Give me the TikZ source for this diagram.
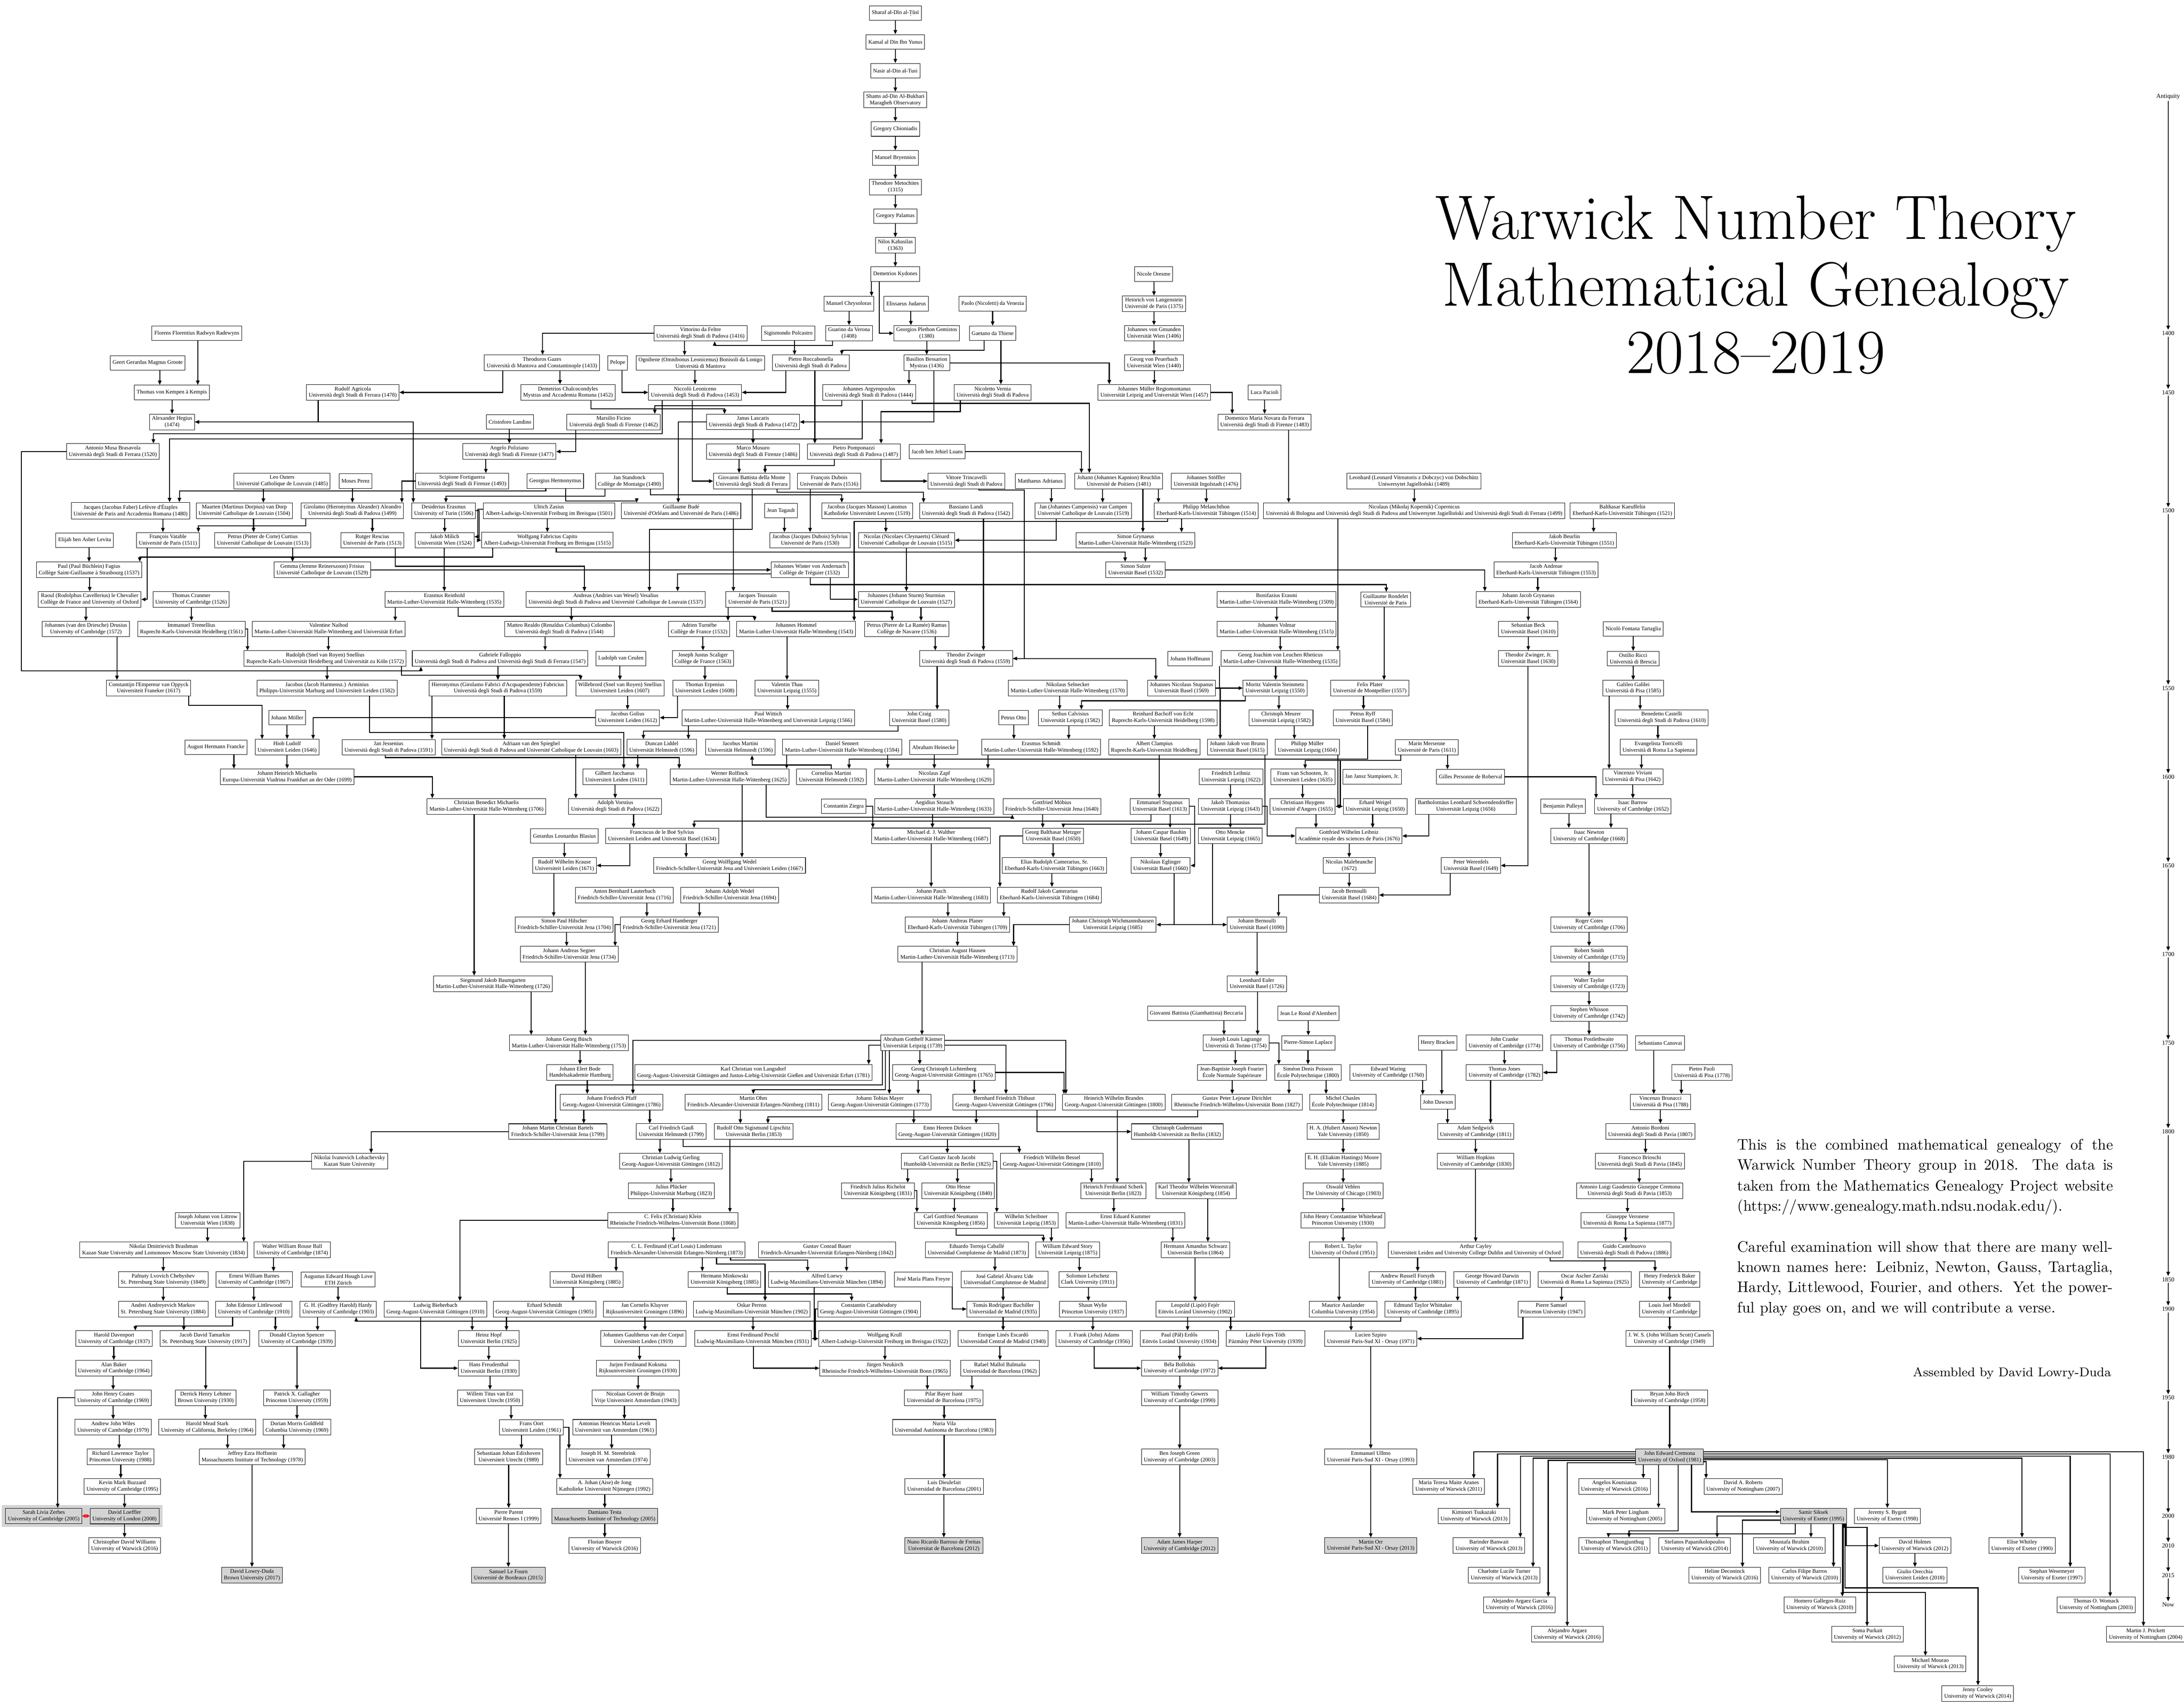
\documentclass[tikz,border=0pt]{standalone}
\usepackage{fontspec}
\newfontfamily\nodefont{Liberation Serif}
\usetikzlibrary{arrows.meta}
\pgfdeclarelayer{bg}
\pgfsetlayers{bg,main}
\newcommand\Tdot{T\kern-.43em\raisebox{-.62ex}{.}\kern.18em}
\newcommand\eV[2]{\draw[edg] (#1.south -| #2.north) -- (#2.north);}
\newcommand\eVA[3]{\draw[edg] (#1.south -| #3,0) -- (#2.north -| #3,0);}
\newcommand\eGA[5]{\draw[edg] (#1.south -| #2,0) |- (#4,#5) -- (#3.north -| #4,0);}
\newcommand\eTW[3]{\draw[edg] (#1.south -| #2,0) |- (#3.west);}
\newcommand\eTE[3]{\draw[edg] (#1.south -| #2,0) |- (#3.east);}
\newcommand\eFE[3]{\draw[edg] (#1.east) -| (#2.north -| #3,0);}
\newcommand\eFW[3]{\draw[edg] (#1.west) -| (#2.north -| #3,0);}
\tikzset{
  pers/.style={draw, line width=0.28pt, fill=white, inner xsep=1.5pt, inner ysep=1.3pt,
    minimum height=9.2pt, align=center, font=\nodefont\fontsize{3.5}{4.1}\selectfont},
  gpers/.style={pers, fill=black!17},
  edg/.style={line width=0.6pt, -{Triangle[length=2.7pt,width=2.2pt]}},
  yr/.style={inner sep=0.6pt, font=\nodefont\fontsize{3.9}{4.5}\selectfont},
  txt/.style={anchor=base west, inner sep=0pt, font=\fontsize{9.6}{12}\selectfont},
  ttl/.style={anchor=base, inner sep=0pt, font=\fontsize{39.6}{42}\selectfont}
}
\begin{document}
\begin{tikzpicture}[x=0.2pt, y=-18.66pt]
\useasboundingbox (0,-9.2712) rectangle (6891,48.4244);
\begin{pgfonlayer}{bg}
\fill[white] (0,-9.2712) rectangle (6891,48.4244);
\fill[black!17] (6,41.63) rectangle (513,42.37);
\end{pgfonlayer}
% ---------------- title and text
\node[ttl] at (5540,-1.190) {Warwick Number Theory};
\node[ttl] at (5540,1.083) {Mathematical Genealogy};
\node[ttl] at (5540,3.355) {2018--2019};
\node[txt] at (5481,29.614) {\hbox to 237pt{This is the combined mathematical genealogy of the}};
\node[txt] at (5481,30.300) {\hbox to 237pt{Warwick Number Theory group in 2018. The data is}};
\node[txt] at (5481,30.997) {\hbox to 237pt{taken from the Mathematics Genealogy Project website}};
\node[txt] at (5481,31.683) {(https://www.genealogy.math.ndsu.nodak.edu/).};
\node[txt] at (5481,33.065) {\hbox to 237pt{Careful examination will show that there are many well-}};
\node[txt] at (5481,33.751) {\hbox to 237pt{known names here: Leibniz, Newton, Gauss, Tartaglia,}};
\node[txt] at (5481,34.437) {\hbox to 237pt{Hardy, Littlewood, Fourier, and others. Yet the power-}};
\node[txt] at (5481,35.123) {ful play goes on, and we will contribute a verse.};
\node[txt, anchor=base east, font=\fontsize{8}{10}\selectfont] at (6662,37.277) {Assembled by David Lowry-Duda};
% ---------------- time axis
\node[yr] (y0) at (6841,-6) {Antiquity};
\node[yr] (y1) at (6841,2) {1400};
\node[yr] (y2) at (6841,4) {1450};
\node[yr] (y3) at (6841,8) {1500};
\node[yr] (y4) at (6841,14) {1550};
\node[yr] (y5) at (6841,17) {1600};
\node[yr] (y6) at (6841,20) {1650};
\node[yr] (y7) at (6841,23) {1700};
\node[yr] (y8) at (6841,26) {1750};
\node[yr] (y9) at (6841,29) {1800};
\node[yr] (y10) at (6841,34) {1850};
\node[yr] (y11) at (6841,35) {1900};
\node[yr] (y12) at (6841,38) {1950};
\node[yr] (y13) at (6841,40) {1980};
\node[yr] (y14) at (6841,42) {2000};
\node[yr] (y15) at (6841,43) {2010};
\node[yr] (y16) at (6841,44) {2015};
\node[yr] (y17) at (6841,45) {Now};
% ---------------- people
\node[pers] (t1) at (2825,-8.826) {Sharaf al-Dīn al-\Tdot ūsī};
\node[pers] (t2) at (2825,-7.856) {Kamal al Din Ibn Yunus};
\node[pers] (t3) at (2825,-6.881) {Nasir al-Din al-Tusi};
\node[pers] (t4) at (2825,-5.895) {Shams ad-Din Al-Bukhari\\Maragheh Observatory};
\node[pers] (t5) at (2825,-4.909) {Gregory Chioniadis};
\node[pers] (t6) at (2825,-3.934) {Manuel Bryennios};
\node[pers] (t7) at (2825,-2.947) {Theodore Metochites\\(1315)};
\node[pers] (t8) at (2825,-1.961) {Gregory Palamas};
\node[pers] (t9) at (2825,-0.975) {Nilos Kabasilas\\(1363)};
\node[pers] (kyd) at (2825,0) {Demetrios Kydones};
\node[pers] (ores) at (3640,0) {Nicole Oresme};
% row 1
\node[pers] (chrys) at (2678,1) {Manuel Chrysoloras};
\node[pers] (judae) at (2859,1) {Elissaeus Judaeus};
\node[pers] (paolo) at (3132,1) {Paolo (Nicoletti) da Venezia};
\node[pers] (lang) at (3641,1) {Heinrich von Langenstein\\Université de Paris (1375)};
% row 2
\node[pers] (rade) at (621,2) {Florens Florentius Radwyn Radewyns};
\node[pers] (vitt) at (2210,2) {Vittorino da Feltre\\Università degli Studi di Padova (1416)};
\node[pers] (polc) at (2487,2) {Sigismondo Polcastro};
\node[pers] (guar) at (2679,2) {Guarino da Verona\\(1408)};
\node[pers] (plet) at (2924,2) {Georgios Plethon Gemistos\\(1380)};
\node[pers] (gaet) at (3132,2) {Gaetano da Thiene};
\node[pers] (gmun) at (3641,2) {Johannes von Gmunden\\Universität Wien (1406)};
% row 3
\node[pers] (groo) at (466,3) {Geert Gerardus Magnus Groote};
\node[pers] (gaza) at (1710,3) {Theodoros Gazes\\Università di Mantova and Constantinople (1433)};
\node[pers] (pelo) at (1949,3) {Pelope};
\node[pers] (ogni) at (2210,3) {Ognibene (Omnibonus Leonicenus) Bonisoli da Lonigo\\Università di Mantova};
\node[pers] (rocc) at (2558,3) {Pietro Roccabonella\\Università degli Studi di Padova};
\node[pers] (bess) at (2924,3) {Basilios Bessarion\\Mystras (1436)};
\node[pers] (peue) at (3641,3) {Georg von Peuerbach\\Universität Wien (1440)};
% row 4
\node[pers] (kemp) at (542,4) {Thomas von Kempen à Kempis};
\node[pers] (agri) at (1113,4) {Rudolf Agricola\\Università degli Studi di Ferrara (1478)};
\node[pers] (chal) at (1792,4) {Demetrios Chalcocondyles\\Mystras and Accademia Romana (1452)};
\node[pers] (leon) at (2193,4) {Niccolò Leoniceno\\Università degli Studi di Padova (1453)};
\node[pers] (argy) at (2742,4) {Johannes Argyropoulos\\Università degli Studi di Padova (1444)};
\node[pers] (vern) at (3132,4) {Nicoletto Vernia\\Università degli Studi di Padova};
\node[pers] (regi) at (3642,4) {Johannes Müller Regiomontanus\\Universität Leipzig and Universität Wien (1457)};
\node[pers] (paci) at (3990,4) {Luca Pacioli};
% row 5
\node[pers] (hegi) at (543,5) {Alexander Hegius\\(1474)};
\node[pers] (land) at (1609,5) {Cristoforo Landino};
\node[pers] (fici) at (1936,5) {Marsilio Ficino\\Università degli Studi di Firenze (1462)};
\node[pers] (lasc) at (2376,5) {Janus Lascaris\\Università degli Studi di Padova (1472)};
\node[pers] (nova) at (3990,5) {Domenico Maria Novara da Ferrara\\Università degli Studi di Firenze (1483)};
% row 6
\node[pers] (bras) at (356,6) {Antonio Musa Brasavola\\Università degli Studi di Ferrara (1520)};
\node[pers] (poli) at (1607,6) {Angelo Poliziano\\Università degli Studi di Firenze (1477)};
\node[pers] (musu) at (2376,6) {Marco Musuro\\Università degli Studi di Firenze (1486)};
\node[pers] (pomp) at (2694,6) {Pietro Pomponazzi\\Università degli Studi di Padova (1487)};
\node[pers] (loan) at (2957,6) {Jacob ben Jehiel Loans};
% row 7
\node[pers] (oute) at (890,7) {Leo Outers\\Université Catholique de Louvain (1485)};
\node[pers] (pere) at (1122,7) {Moses Perez};
\node[pers] (fort) at (1458,7) {Scipione Fortiguerra\\Università degli Studi di Firenze (1493)};
\node[pers] (herm) at (1752,7) {Georgius Hermonymus};
\node[pers] (stan) at (1986,7) {Jan Standonck\\Collège de Montaigu (1490)};
\node[pers] (monte) at (2372,7) {Giovanni Battista della Monte\\Università degli Studi di Ferrara};
\node[pers] (dubo) at (2616,7) {François Dubois\\Université de Paris (1516)};
\node[pers] (trin) at (3049,7) {Vittore Trincavelli\\Università degli Studi di Padova};
\node[pers] (adri) at (3282,7) {Matthaeus Adrianus};
\node[pers] (reuc) at (3530,7) {Johann (Johannes Kapnion) Reuchlin\\Université de Poitiers (1481)};
\node[pers] (stof) at (3805,7) {Johannes Stöffler\\Universität Ingolstadt (1476)};
\node[pers] (dobs) at (4461,7) {Leonhard (Leonard Vitreatoris z Dobczyc) von Dobschütz\\Uniwersytet Jagielloński (1489)};
% row 8
\node[pers] (lefe) at (412,8) {Jacques (Jacobus Faber) Lefèvre d'Étaples\\Université de Paris and Accademia Romana (1480)};
\node[pers] (dorp) at (771,8) {Maarten (Martinus Dorpius) van Dorp\\Université Catholique de Louvain (1504)};
\node[pers] (alea) at (1112,8) {Girolamo (Hieronymus Aleander) Aleandro\\Università degli Studi di Padova (1499)};
\node[pers] (eras) at (1400,8) {Desiderius Erasmus\\University of Turin (1506)};
\node[pers] (zasi) at (1732,8) {Ulrich Zasius\\Albert-Ludwigs-Universität Freiburg im Breisgau (1501)};
\node[pers] (bude) at (2149,8) {Guillaume Budé\\Université d'Orléans and Université de Paris (1486)};
\node[pers] (taga) at (2464,8) {Jean Tagault};
\node[pers] (lato) at (2736,8) {Jacobus (Jacques Masson) Latomus\\Katholieke Universiteit Leuven (1519)};
\node[pers] (landi) at (3048,8) {Bassiano Landi\\Università degli Studi di Padova (1542)};
\node[pers] (camp) at (3418,8) {Jan (Johannes Campensis) van Campen\\Université Catholique de Louvain (1519)};
\node[pers] (mela) at (3806,8) {Philipp Melanchthon\\Eberhard-Karls-Universität Tübingen (1514)};
\node[pers] (cope) at (4462,8) {Nicolaus (Mikołaj Kopernik) Copernicus\\Università di Bologna and Università degli Studi di Padova and Uniwersytet Jagielloński and Università degli Studi di Ferrara (1499)};
\node[pers] (kaeu) at (5119,8) {Balthasar Kaeuffelin\\Eberhard-Karls-Universität Tübingen (1521)};
% row 9
\node[pers] (levi) at (267,9) {Elijah ben Asher Levita};
\node[pers] (vata) at (530,9) {François Vatable\\Université de Paris (1511)};
\node[pers] (curt) at (829,9) {Petrus (Pieter de Corte) Curtius\\Université Catholique de Louvain (1513)};
\node[pers] (resc) at (1175,9) {Rutger Rescius\\Université de Paris (1513)};
\node[pers] (mili) at (1403,9) {Jakob Milich\\Universität Wien (1524)};
\node[pers] (capi) at (1727,9) {Wolfgang Fabricius Capito\\Albert-Ludwigs-Universität Freiburg im Breisgau (1515)};
\node[pers] (sylv) at (2556,9) {Jacobus (Jacques Dubois) Sylvius\\Université de Paris (1530)};
\node[pers] (clen) at (2860,9) {Nicolas (Nicolaes Cleynaerts) Clénard\\Université Catholique de Louvain (1515)};
\node[pers] (sgry) at (3583,9) {Simon Grynaeus\\Martin-Luther-Universität Halle-Wittenberg (1523)};
\node[pers] (beur) at (4936,9) {Jakob Beurlin\\Eberhard-Karls-Universität Tübingen (1551)};
% row 10
\node[pers] (fagi) at (281,10) {Paul (Paul Büchlein) Fagius\\Collège Saint-Guillaume à Strasbourg (1537)};
\node[pers] (fris) at (1017,10) {Gemma (Jemme Reinerszoon) Frisius\\Université Catholique de Louvain (1529)};
\node[pers] (wint) at (2555,10) {Johannes Winter von Andernach\\Collège de Tréguier (1532)};
\node[pers] (sulz) at (3583,10) {Simon Sulzer\\Universität Basel (1532)};
\node[pers] (andr) at (4878,10) {Jacob Andreae\\Eberhard-Karls-Universität Tübingen (1553)};
% row 11
\node[pers] (chev) at (283,11) {Raoul (Rodolphus Cavellerius) le Chevalier\\Collège de France and University of Oxford};
\node[pers] (cran) at (603,11) {Thomas Cranmer\\University of Cambridge (1526)};
\node[pers] (rein) at (1402,11) {Erasmus Reinhold\\Martin-Luther-Universität Halle-Wittenberg (1535)};
\node[pers] (vesa) at (1943,11) {Andreas (Andries van Wesel) Vesalius\\Università degli Studi di Padova and Université Catholique de Louvain (1537)};
\node[pers] (tous) at (2390,11) {Jacques Toussain\\Université de Paris (1521)};
\node[pers] (stur) at (2860,11) {Johannes (Johann Sturm) Sturmius\\Université Catholique de Louvain (1527)};
\node[pers] (bera) at (4028,11) {Bonifazius Erasmi\\Martin-Luther-Universität Halle-Wittenberg (1509)};
\node[pers] (rond) at (4372,11) {Guillaume Rondelet\\Université de Paris};
\node[pers] (jjgr) at (4822,11) {Johann Jacob Grynaeus\\Eberhard-Karls-Universität Tübingen (1564)};
% row 12
\node[pers] (drus) at (271,12) {Johannes (van den Driesche) Drusius\\University of Cambridge (1572)};
\node[pers] (trem) at (604,12) {Immanuel Tremellius\\Ruprecht-Karls-Universität Heidelberg (1561)};
\node[pers] (naib) at (1037,12) {Valentine Naibod\\Martin-Luther-Universität Halle-Wittenberg and Universität Erfurt};
\node[pers] (colo) at (1765,12) {Matteo Realdo (Renaldus Columbus) Colombo\\Università degli Studi di Padova (1544)};
\node[pers] (turn) at (2206,12) {Adrien Turnèbe\\Collège de France (1532)};
\node[pers] (homm) at (2512,12) {Johannes Hommel\\Martin-Luther-Universität Halle-Wittenberg (1543)};
\node[pers] (ramu) at (2861,12) {Petrus (Pierre de La Ramée) Ramus\\Collège de Navarre (1536)};
\node[pers] (volm) at (4028,12) {Johannes Volmar\\Martin-Luther-Universität Halle-Wittenberg (1515)};
\node[pers] (beck) at (4822,12) {Sebastian Beck\\Universität Basel (1610)};
\node[pers] (tart) at (5153,12) {Nicolò Fontana Tartaglia};
% row 13
\node[pers] (snel) at (1026,13) {Rudolph (Snel van Royen) Snellius\\Ruprecht-Karls-Universität Heidelberg and Universität zu Köln (1572)};
\node[pers] (fall) at (1578,13) {Gabriele Falloppio\\Università degli Studi di Padova and Università degli Studi di Ferrara (1547)};
\node[pers] (ceul) at (1959,13) {Ludolph van Ceulen};
\node[pers] (scal) at (2218,13) {Joseph Justus Scaliger\\Collège de France (1563)};
\node[pers] (zwin) at (3048,13) {Theodor Zwinger\\Università degli Studi di Padova (1559)};
\node[pers] (hoff) at (3755,13) {Johann Hoffmann};
\node[pers] (rhet) at (4040,13) {Georg Joachim von Leuchen Rheticus\\Martin-Luther-Universität Halle-Wittenberg (1535)};
\node[pers] (zwjr) at (4822,13) {Theodor Zwinger, Jr.\\Universität Basel (1630)};
\node[pers] (ricc) at (5153,13) {Ostilio Ricci\\Università di Brescia};
% row 14
\node[pers] (empe) at (469,14) {Constantijn l'Empereur van Oppyck\\Universiteit Franeker (1617)};
\node[pers] (armi) at (1032,14) {Jacobus (Jacob Harmensz.) Arminius\\Philipps-Universität Marburg and Universiteit Leiden (1582)};
\node[pers] (fabr) at (1571,14) {Hieronymus (Girolamo Fabrici d'Acquapendente) Fabricius\\Università degli Studi di Padova (1559)};
\node[pers] (wsne) at (1956,14) {Willebrord (Snel van Royen) Snellius\\Universiteit Leiden (1607)};
\node[pers] (erpe) at (2224,14) {Thomas Erpenius\\Universiteit Leiden (1608)};
\node[pers] (thau) at (2483,14) {Valentin Thau\\Universität Leipzig (1555)};
\node[pers] (seln) at (3369,14) {Nikolaus Selnecker\\Martin-Luther-Universität Halle-Wittenberg (1570)};
\node[pers] (jnst) at (3728,14) {Johannes Nicolaus Stupanus\\Universität Basel (1569)};
\node[pers] (stei) at (4023,14) {Moritz Valentin Steinmetz\\Universität Leipzig (1550)};
\node[pers] (plat) at (4322,14) {Felix Plater\\Université de Montpellier (1557)};
\node[pers] (gali) at (5153,14) {Galileo Galilei\\Università di Pisa (1585)};
% row 15
\node[pers] (moll) at (906,15) {Johann Möller};
\node[pers] (goli) at (1980,15) {Jacobus Golius\\Universiteit Leiden (1612)};
\node[pers] (witt) at (2424,15) {Paul Wittich\\Martin-Luther-Universität Halle-Wittenberg and Universität Leipzig (1566)};
\node[pers] (crai) at (2900,15) {John Craig\\Universität Basel (1580)};
\node[pers] (otto) at (3198,15) {Petrus Otto};
\node[pers] (calv) at (3377,15) {Sethus Calvisius\\Universität Leipzig (1582)};
\node[pers] (bach) at (3670,15) {Reinhard Bachoff von Echt\\Ruprecht-Karls-Universität Heidelberg (1598)};
\node[pers] (meur) at (4042,15) {Christoph Meurer\\Universität Leipzig (1582)};
\node[pers] (ryff) at (4300,15) {Petrus Ryff\\Universität Basel (1584)};
\node[pers] (cast) at (5243,15) {Benedetto Castelli\\Università degli Studi di Padova (1610)};
% row 16
\node[pers] (fran) at (681,16) {August Hermann Francke};
\node[pers] (ludo) at (906,16) {Hiob Ludolf\\Universiteit Leiden (1646)};
\node[pers] (jess) at (1226,16) {Jan Jessenius\\Università degli Studi di Padova (1591)};
\node[pers] (spie) at (1676,16) {Adriaan van den Spieghel\\Università degli Studi di Padova and Université Catholique de Louvain (1603)};
\node[pers] (lidd) at (2088,16) {Duncan Liddel\\Universität Helmstedt (1596)};
\node[pers] (jmar) at (2336,16) {Jacobus Martini\\Universität Helmstedt (1596)};
\node[pers] (senn) at (2657,16) {Daniel Sennert\\Martin-Luther-Universität Halle-Wittenberg (1594)};
\node[pers] (hein) at (2946,16) {Abraham Heinecke};
\node[pers] (esch) at (3285,16) {Erasmus Schmidt\\Martin-Luther-Universität Halle-Wittenberg (1592)};
\node[pers] (clam) at (3642,16) {Albert Clampius\\Ruprecht-Karls-Universität Heidelberg};
\node[pers] (brun) at (3904,16) {Johann Jakob von Brunn\\Universität Basel (1615)};
\node[pers] (pmul) at (4125,16) {Philipp Müller\\Universität Leipzig (1604)};
\node[pers] (mers) at (4502,16) {Marin Mersenne\\Université de Paris (1611)};
\node[pers] (torr) at (5233,16) {Evangelista Torricelli\\Università di Roma La Sapienza};
% row 17
\node[pers] (jhmi) at (906,17) {Johann Heinrich Michaelis\\Europa-Universität Viadrina Frankfurt an der Oder (1699)};
\node[pers] (jacc) at (1940,17) {Gilbert Jacchaeus\\Universiteit Leiden (1611)};
\node[pers] (rolf) at (2302,17) {Werner Rolfinck\\Martin-Luther-Universität Halle-Wittenberg (1625)};
\node[pers] (cmar) at (2623,17) {Cornelius Martini\\Universität Helmstedt (1592)};
\node[pers] (zapf) at (2948,17) {Nicolaus Zapf\\Martin-Luther-Universität Halle-Wittenberg (1629)};
\node[pers] (flei) at (3884,17) {Friedrich Leibniz\\Universität Leipzig (1622)};
\node[pers] (scho) at (4111,17) {Frans van Schooten, Jr.\\Universiteit Leiden (1635)};
\node[pers] (stam) at (4329,17) {Jan Jansz Stampioen, Jr.};
\node[pers] (robe) at (4640,17) {Gilles Personne de Roberval};
\node[pers] (vivi) at (5152,17) {Vincenzo Viviani\\Università di Pisa (1642)};
% row 18
\node[pers] (cbmi) at (1535,18) {Christian Benedict Michaelis\\Martin-Luther-Universität Halle-Wittenberg (1706)};
\node[pers] (vors) at (1941,18) {Adolph Vorstius\\Università degli Studi di Padova (1622)};
\node[pers] (zieg) at (2662,18) {Constantin Ziegra};
\node[pers] (stra) at (2948,18) {Aegidius Strauch\\Martin-Luther-Universität Halle-Wittenberg (1633)};
\node[pers] (mobi) at (3319,18) {Gottfried Möbius\\Friedrich-Schiller-Universität Jena (1640)};
\node[pers] (esup) at (3659,18) {Emmanuel Stupanus\\Universität Basel (1613)};
\node[pers] (thom) at (3882,18) {Jakob Thomasius\\Universität Leipzig (1643)};
\node[pers] (huyg) at (4110,18) {Christiaan Huygens\\Université d'Angers (1655)};
\node[pers] (weig) at (4339,18) {Erhard Weigel\\Universität Leipzig (1650)};
\node[pers] (schw) at (4625,18) {Bartholomäus Leonhard Schwendendörffer\\Universität Leipzig (1656)};
\node[pers] (pull) at (4932,18) {Benjamin Pulleyn};
\node[pers] (barr) at (5152,18) {Isaac Barrow\\University of Cambridge (1652)};
% row 19
\node[pers] (blas) at (1781,19) {Gerardus Leonardus Blasius};
\node[pers] (fsyl) at (2089,19) {Franciscus de le Boë Sylvius\\Universiteit Leiden and Universität Basel (1634)};
\node[pers] (walt) at (2938,19) {Michael d. J. Walther\\Martin-Luther-Universität Halle-Wittenberg (1687)};
\node[pers] (metz) at (3323,19) {Georg Balthasar Metzger\\Universität Basel (1650)};
\node[pers] (bauh) at (3663,19) {Johann Caspar Bauhin\\Universität Basel (1649)};
\node[pers] (menc) at (3882,19) {Otto Mencke\\Universität Leipzig (1665)};
\node[pers] (leib) at (4256,19) {Gottfried Wilhelm Leibniz\\Académie royale des sciences de Paris (1676)};
\node[pers] (newt) at (5014,19) {Isaac Newton\\University of Cambridge (1668)};
% row 20
\node[pers] (krau) at (1781,20) {Rudolf Wilhelm Krause\\Universiteit Leiden (1671)};
\node[pers] (gwwe) at (2302,20) {Georg Wolffgang Wedel\\Friedrich-Schiller-Universität Jena and Universiteit Leiden (1667)};
\node[pers] (erca) at (3327,20) {Elias Rudolph Camerarius, Sr.\\Eberhard-Karls-Universität Tübingen (1663)};
\node[pers] (egli) at (3662,20) {Nikolaus Eglinger\\Universität Basel (1660)};
\node[pers] (male) at (4257,20) {Nicolas Malebranche\\(1672)};
\node[pers] (were) at (4641,20) {Peter Werenfels\\Universität Basel (1649)};
% row 21
\node[pers] (laut) at (1970,21) {Anton Bernhard Lauterbach\\Friedrich-Schiller-Universität Jena (1716)};
\node[pers] (jawe) at (2302,21) {Johann Adolph Wedel\\Friedrich-Schiller-Universität Jena (1694)};
\node[pers] (pasc) at (2938,21) {Johann Pasch\\Martin-Luther-Universität Halle-Wittenberg (1683)};
\node[pers] (rjca) at (3311,21) {Rudolf Jakob Camerarius\\Eberhard-Karls-Universität Tübingen (1684)};
\node[pers] (jabe) at (4257,21) {Jacob Bernoulli\\Universität Basel (1684)};
% row 22
\node[pers] (hils) at (1780,22) {Simon Paul Hilscher\\Friedrich-Schiller-Universität Jena (1704)};
\node[pers] (hamb) at (2112,22) {Georg Erhard Hamberger\\Friedrich-Schiller-Universität Jena (1721)};
\node[pers] (plan) at (3021,22) {Johann Andreas Planer\\Eberhard-Karls-Universität Tübingen (1709)};
\node[pers] (wich) at (3511,22) {Johann Christoph Wichmannshausen\\Universität Leipzig (1685)};
\node[pers] (jobe) at (3966,22) {Johann Bernoulli\\Universität Basel (1690)};
\node[pers] (cote) at (5014,22) {Roger Cotes\\University of Cambridge (1706)};
% row 23
\node[pers] (segn) at (1796,23) {Johann Andreas Segner\\Friedrich-Schiller-Universität Jena (1734)};
\node[pers] (haus) at (3021,23) {Christian August Hausen\\Martin-Luther-Universität Halle-Wittenberg (1713)};
\node[pers] (smit) at (5014,23) {Robert Smith\\University of Cambridge (1715)};
% row 24
\node[pers] (baum) at (1555,24) {Siegmund Jakob Baumgarten\\Martin-Luther-Universität Halle-Wittenberg (1726)};
\node[pers] (eule) at (3966,24) {Leonhard Euler\\Universität Basel (1726)};
\node[pers] (tayl) at (5014,24) {Walter Taylor\\University of Cambridge (1723)};
% row 25
\node[pers] (becc) at (3775,25) {Giovanni Battista (Giambattista) Beccaria};
\node[pers] (dale) at (4128,25) {Jean Le Rond d'Alembert};
\node[pers] (whis) at (5014,25) {Stephen Whisson\\University of Cambridge (1742)};
% row 26
\node[pers] (busc) at (1795,26) {Johann Georg Büsch\\Martin-Luther-Universität Halle-Wittenberg (1753)};
\node[pers] (kast) at (2880,26) {Abraham Gotthelf Kästner\\Universität Leipzig (1739)};
\node[pers] (lagr) at (3900,26) {Joseph Louis Lagrange\\Università di Torino (1754)};
\node[pers] (lapl) at (4128,26) {Pierre-Simon Laplace};
\node[pers] (brac) at (4536,26) {Henry Bracken};
\node[pers] (crnk) at (4747,26) {John Cranke\\University of Cambridge (1774)};
\node[pers] (post) at (5014,26) {Thomas Postlethwaite\\University of Cambridge (1756)};
\node[pers] (cano) at (5238,26) {Sebastiano Canovai};
% row 27
\node[pers] (bode) at (1830,27) {Johann Elert Bode\\Handelsakademie Hamburg};
\node[pers] (lgsd) at (2377,27) {Karl Christian von Langsdorf\\Georg-August-Universität Göttingen and Justus-Liebig-Universität Gießen and Universität Erfurt (1781)};
\node[pers] (lich) at (2978,27) {Georg Christoph Lichtenberg\\Georg-August-Universität Göttingen (1765)};
\node[pers] (four) at (3887,27) {Jean-Baptiste Joseph Fourier\\École Normale Supérieure};
\node[pers] (pois) at (4127,27) {Siméon Denis Poisson\\École Polytechnique (1800)};
\node[pers] (wari) at (4380,27) {Edward Waring\\University of Cambridge (1760)};
\node[pers] (jone) at (4747,27) {Thomas Jones\\University of Cambridge (1782)};
\node[pers] (paol) at (5370,27) {Pietro Paoli\\Università di Pisa (1778)};
% row 28
\node[pers] (pfaf) at (1930,28) {Johann Friedrich Pfaff\\Georg-August-Universität Göttingen (1786)};
\node[pers] (ohm) at (2377,28) {Martin Ohm\\Friedrich-Alexander-Universität Erlangen-Nürnberg (1811)};
\node[pers] (maye) at (2776,28) {Johann Tobias Mayer\\Georg-August-Universität Göttingen (1773)};
\node[pers] (thib) at (3169,28) {Bernhard Friedrich Thibaut\\Georg-August-Universität Göttingen (1796)};
\node[pers] (bran) at (3514,28) {Heinrich Wilhelm Brandes\\Georg-August-Universität Göttingen (1800)};
\node[pers] (diri) at (3903,28) {Gustav Peter Lejeune Dirichlet\\Rheinische Friedrich-Wilhelms-Universität Bonn (1827)};
\node[pers] (chas) at (4237,28) {Michel Chasles\\École Polytechnique (1814)};
\node[pers] (daws) at (4537,28) {John Dawson};
\node[pers] (bruc) at (5239,28) {Vincenzo Brunacci\\Università di Pisa (1788)};
% row 29
\node[pers] (bart) at (1760,29) {Johann Martin Christian Bartels\\Friedrich-Schiller-Universität Jena (1799)};
\node[pers] (gaus) at (2118,29) {Carl Friedrich Gauß\\Universität Helmstedt (1799)};
\node[pers] (lips) at (2378,29) {Rudolf Otto Sigismund Lipschitz\\Universität Berlin (1853)};
\node[pers] (dirk) at (2989,29) {Enno Heeren Dirksen\\Georg-August-Universität Göttingen (1820)};
\node[pers] (gude) at (3715,29) {Christoph Gudermann\\Humboldt-Universität zu Berlin (1832)};
\node[pers] (hane) at (4238,29) {H. A. (Hubert Anson) Newton\\Yale University (1850)};
\node[pers] (sedg) at (4656,29) {Adam Sedgwick\\University of Cambridge (1811)};
\node[pers] (bord) at (5207,29) {Antonio Bordoni\\Università degli Studi di Pavia (1807)};
% row 30
\node[pers] (loba) at (1103,30) {Nikolai Ivanovich Lobachevsky\\Kazan State University};
\node[pers] (gerl) at (2117,30) {Christian Ludwig Gerling\\Georg-August-Universität Göttingen (1812)};
\node[pers] (jaco) at (2989,30) {Carl Gustav Jacob Jacobi\\Humboldt-Universität zu Berlin (1825)};
\node[pers] (bssl) at (3319,30) {Friedrich Wilhelm Bessel\\Georg-August-Universität Göttingen (1810)};
\node[pers] (moor) at (4238,30) {E. H. (Eliakim Hastings) Moore\\Yale University (1885)};
\node[pers] (hopk) at (4656,30) {William Hopkins\\University of Cambridge (1830)};
\node[pers] (brio) at (5174,30) {Francesco Brioschi\\Università degli Studi di Pavia (1845)};
% row 31
\node[pers] (pluc) at (2118,31) {Julius Plücker\\Philipps-Universität Marburg (1823)};
\node[pers] (rich) at (2770,31) {Friedrich Julius Richelot\\Universität Königsberg (1831)};
\node[pers] (hess) at (3023,31) {Otto Hesse\\Universität Königsberg (1840)};
\node[pers] (sche) at (3513,31) {Heinrich Ferdinand Scherk\\Universität Berlin (1823)};
\node[pers] (weie) at (3774,31) {Karl Theodor Wilhelm Weierstraß\\Universität Königsberg (1854)};
\node[pers] (vebl) at (4238,31) {Oswald Veblen\\The University of Chicago (1903)};
\node[pers] (crem) at (5142,31) {Antonio Luigi Gaudenzio Giuseppe Cremona\\Università degli Studi di Pavia (1853)};
% row 32
\node[pers] (litt) at (655,32) {Joseph Johann von Littrow\\Universität Wien (1838)};
\node[pers] (klei) at (2123,32) {C. Felix (Christian) Klein\\Rheinische Friedrich-Wilhelms-Universität Bonn (1868)};
\node[pers] (neum) at (3000,32) {Carl Gottfried Neumann\\Universität Königsberg (1856)};
\node[pers] (schb) at (3238,32) {Wilhelm Scheibner\\Universität Leipzig (1853)};
\node[pers] (kumm) at (3551,32) {Ernst Eduard Kummer\\Martin-Luther-Universität Halle-Wittenberg (1831)};
\node[pers] (whit) at (4237,32) {John Henry Constantine Whitehead\\Princeton University (1930)};
\node[pers] (vero) at (5135,32) {Giuseppe Veronese\\Università di Roma La Sapienza (1877)};
% row 33
\node[pers] (brsh) at (516,33) {Nikolai Dmitrievich Brashman\\Kazan State University and Lomonosov Moscow State University (1834)};
\node[pers] (ball) at (922,33) {Walter William Rouse Ball\\University of Cambridge (1874)};
\node[pers] (lind) at (2135,33) {C. L. Ferdinand (Carl Louis) Lindemann\\Friedrich-Alexander-Universität Erlangen-Nürnberg (1873)};
\node[pers] (baue) at (2610,33) {Gustav Conrad Bauer\\Friedrich-Alexander-Universität Erlangen-Nürnberg (1842)};
\node[pers] (torj) at (3082,33) {Eduardo Torroja Caballé\\Universidad Complutense de Madrid (1873)};
\node[pers] (stor) at (3369,33) {William Edward Story\\Universität Leipzig (1875)};
\node[pers] (schz) at (3772,33) {Hermann Amandus Schwarz\\Universität Berlin (1864)};
\node[pers] (rlta) at (4238,33) {Robert L. Taylor\\University of Oxford (1951)};
\node[pers] (cayl) at (4656,33) {Arthur Cayley\\Universiteit Leiden and University College Dublin and University of Oxford};
\node[pers] (cstn) at (5125,33) {Guido Castelnuovo\\Università degli Studi di Padova (1886)};
% row 34
\node[pers] (cheb) at (515,34) {Pafnuty Lvovich Chebyshev\\St. Petersburg State University (1849)};
\node[pers] (barn) at (802,34) {Ernest William Barnes\\University of Cambridge (1907)};
\node[pers] (love) at (1067,34) {Augustus Edward Hough Love\\ETH Zürich};
\node[pers] (hilb) at (1851,34) {David Hilbert\\Universität Königsberg (1885)};
\node[pers] (mink) at (2286,34) {Hermann Minkowski\\Universität Königsberg (1885)};
\node[pers] (loew) at (2609,34) {Alfred Loewy\\Ludwig-Maximilians-Universität München (1894)};
\node[pers] (plfr) at (2913,34) {José María Plans Freyre};
\node[pers] (alva) at (3170,34) {José Gabriel Álvarez Ude\\Universidad Complutense de Madrid};
\node[pers] (lefs) at (3432,34) {Solomon Lefschetz\\Clark University (1911)};
\node[pers] (fors) at (4441,34) {Andrew Russell Forsyth\\University of Cambridge (1881)};
\node[pers] (darw) at (4708,34) {George Howard Darwin\\University of Cambridge (1871)};
\node[pers] (zari) at (5000,34) {Oscar Ascher Zariski\\Università di Roma La Sapienza (1925)};
\node[pers] (bake) at (5268,34) {Henry Frederick Baker\\University of Cambridge};
% row 35
\node[pers] (mark) at (515,35) {Andrei Andreyevich Markov\\St. Petersburg State University (1884)};
\node[pers] (ltwd) at (801,35) {John Edensor Littlewood\\University of Cambridge (1910)};
\node[pers] (hard) at (1067,35) {G. H. (Godfrey Harold) Hardy\\University of Cambridge (1903)};
\node[pers] (bieb) at (1374,35) {Ludwig Bieberbach\\Georg-August-Universität Göttingen (1910)};
\node[pers] (esmi) at (1718,35) {Erhard Schmidt\\Georg-August-Universität Göttingen (1905)};
\node[pers] (kluy) at (2035,35) {Jan Cornelis Kluyver\\Rijksuniversiteit Groningen (1896)};
\node[pers] (perr) at (2372,35) {Oskar Perron\\Ludwig-Maximilians-Universität München (1902)};
\node[pers] (cara) at (2742,35) {Constantin Carathéodory\\Georg-August-Universität Göttingen (1904)};
\node[pers] (rodr) at (3165,35) {Tomás Rodríguez Bachiller\\Universidad de Madrid (1935)};
\node[pers] (wyli) at (3448,35) {Shaun Wylie\\Princeton University (1937)};
\node[pers] (feje) at (3771,35) {Leopold (Lipót) Fejér\\Eötvös Loránd University (1902)};
\node[pers] (ausl) at (4238,35) {Maurice Auslander\\Columbia University (1954)};
\node[pers] (whtt) at (4490,35) {Edmund Taylor Whittaker\\University of Cambridge (1895)};
\node[pers] (samu) at (4895,35) {Pierre Samuel\\Princeton University (1947)};
\node[pers] (mord) at (5268,35) {Louis Joel Mordell\\University of Cambridge};
% row 36
\node[pers] (dave) at (360,36) {Harold Davenport\\University of Cambridge (1937)};
\node[pers] (tama) at (646,36) {Jacob David Tamarkin\\St. Petersburg State University (1917)};
\node[pers] (spen) at (937,36) {Donald Clayton Spencer\\University of Cambridge (1939)};
\node[pers] (hopf) at (1542,36) {Heinz Hopf\\Universität Berlin (1925)};
\node[pers] (corp) at (2030,36) {Johannes Gaultherus van der Corput\\Universiteit Leiden (1919)};
\node[pers] (pesc) at (2376,36) {Ernst Ferdinand Peschl\\Ludwig-Maximilians-Universität München (1931)};
\node[pers] (krul) at (2791,36) {Wolfgang Krull\\Albert-Ludwigs-Universität Freiburg im Breisgau (1922)};
\node[pers] (lnes) at (3165,36) {Enrique Linés Escardó\\Universidad Central de Madrid (1940)};
\node[pers] (adam) at (3452,36) {J. Frank (John) Adams\\University of Cambridge (1956)};
\node[pers] (erdo) at (3721,36) {Paul (Pál) Erdős\\Eötvös Loránd University (1934)};
\node[pers] (fejt) at (3993,36) {László Fejes Tóth\\Pázmány Péter University (1939)};
\node[pers] (szpi) at (4325,36) {Lucien Szpiro\\Université Paris-Sud XI - Orsay (1971)};
\node[pers] (cass) at (5268,36) {J. W. S. (John William Scott) Cassels\\University of Cambridge (1949)};
% row 37
\node[pers] (abak) at (359,37) {Alan Baker\\University of Cambridge (1964)};
\node[pers] (freu) at (1542,37) {Hans Freudenthal\\Universität Berlin (1930)};
\node[pers] (koks) at (2013,37) {Jurjen Ferdinand Koksma\\Rijksuniversiteit Groningen (1930)};
\node[pers] (neuk) at (2792,37) {Jürgen Neukirch\\Rheinische Friedrich-Wilhelms-Universität Bonn (1965)};
\node[pers] (mall) at (3155,37) {Rafael Mallol Balmaña\\Universidad de Barcelona (1962)};
\node[pers] (boll) at (3722,37) {Béla Bollobás\\University of Cambridge (1972)};
% row 38
\node[pers] (coat) at (357,38) {John Henry Coates\\University of Cambridge (1969)};
\node[pers] (lehm) at (649,38) {Derrick Henry Lehmer\\Brown University (1930)};
\node[pers] (gall) at (937,38) {Patrick X. Gallagher\\Princeton University (1959)};
\node[pers] (vane) at (1546,38) {Willem Titus van Est\\Universiteit Utrecht (1950)};
\node[pers] (brui) at (2005,38) {Nicolaas Govert de Bruijn\\Vrije Universiteit Amsterdam (1943)};
\node[pers] (baye) at (2978,38) {Pilar Bayer Isant\\Universidad de Barcelona (1975)};
\node[pers] (gowe) at (3722,38) {William Timothy Gowers\\University of Cambridge (1990)};
\node[pers] (birc) at (5268,38) {Bryan John Birch\\University of Cambridge (1958)};
% row 39
\node[pers] (wile) at (357,39) {Andrew John Wiles\\University of Cambridge (1979)};
\node[pers] (star) at (654,39) {Harold Mead Stark\\University of California, Berkeley (1964)};
\node[pers] (gold) at (937,39) {Dorian Morris Goldfeld\\Columbia University (1969)};
\node[pers] (oort) at (1677,39) {Frans Oort\\Universiteit Leiden (1961)};
\node[pers] (leve) at (1939,39) {Antonius Henricus Maria Levelt\\Universiteit van Amsterdam (1961)};
\node[pers] (vila) at (2979,39) {Nuria Vila\\Universidad Autónoma de Barcelona (1983)};
% row 40
\node[pers] (rtay) at (380,40) {Richard Lawrence Taylor\\Princeton University (1988)};
\node[pers] (hofs) at (796,40) {Jeffrey Ezra Hoffstein\\Massachusetts Institute of Technology (1978)};
\node[pers] (edix) at (1605,40) {Sebastiaan Johan Edixhoven\\Universiteit Utrecht (1989)};
\node[pers] (stee) at (1919,40) {Joseph H. M. Steenbrink\\Universiteit van Amsterdam (1974)};
\node[pers] (gree) at (3722,40) {Ben Joseph Green\\University of Cambridge (2003)};
\node[pers] (ullm) at (4325,40) {Emmanuel Ullmo\\Université Paris-Sud XI - Orsay (1993)};
\node[gpers] (jecr) at (5268,40) {John Edward Cremona\\University of Oxford (1981)};
% row 41
\node[pers] (buzz) at (386,41) {Kevin Mark Buzzard\\University of Cambridge (1995)};
\node[pers] (jong) at (1908,41) {A. Johan (Aise) de Jong\\Katholieke Universiteit Nijmegen (1992)};
\node[pers] (dieu) at (2979,41) {Luis Dieulefait\\Universidad de Barcelona (2001)};
\node[pers] (aran) at (4571,41) {Maria Teresa Maite Aranes\\University of Warwick (2011)};
\node[pers] (kout) at (5094,41) {Angelos Koutsianas\\University of Warwick (2016)};
\node[pers] (robt) at (5500,41) {David A. Roberts\\University of Nottingham (2007)};
% row 42
\node[gpers] (zerb) at (138,42) {Sarah Livia Zerbes\\University of Cambridge (2005)};
\node[gpers] (loef) at (393,42) {David Loeffler\\University of London (2008)};
\node[pers] (pare) at (1605,42) {Pierre Parent\\Université Rennes I (1999)};
\node[gpers] (test) at (1908,42) {Damiano Testa\\Massachusetts Institute of Technology (2005)};
\node[pers] (tsuk) at (4651,42) {Kiminori Tsukazaki\\University of Warwick (2013)};
\node[pers] (ling) at (5129,42) {Mark Peter Lingham\\University of Nottingham (2005)};
\node[gpers] (siks) at (5722,42) {Samir Siksek\\University of Exeter (1995)};
\node[pers] (bygo) at (5955,42) {Jeremy S. Bygott\\University of Exeter (1998)};
% row 43
\node[pers] (cdwi) at (393,43) {Christopher David Williams\\University of Warwick (2016)};
\node[pers] (bouy) at (1908,43) {Florian Bouyer\\University of Warwick (2016)};
\node[gpers] (frei) at (2978,43) {Nuno Ricardo Barroso de Freitas\\Universitat de Barcelona (2012)};
\node[gpers] (harp) at (3722,43) {Adam James Harper\\University of Cambridge (2012)};
\node[gpers] (orr) at (4325,43) {Martin Orr\\Université Paris-Sud XI - Orsay (2013)};
\node[pers] (banw) at (4698,43) {Barinder Banwait\\University of Warwick (2013)};
\node[pers] (thon) at (5094,43) {Thotsaphon Thongjunthug\\University of Warwick (2011)};
\node[pers] (papa) at (5347,43) {Stefanos Papanikolopoulos\\University of Warwick (2014)};
\node[pers] (ibra) at (5646,43) {Moustafa Ibrahim\\University of Warwick (2010)};
\node[pers] (holm) at (6042,43) {David Holmes\\University of Warwick (2012)};
\node[pers] (whtl) at (6380,43) {Elise Whitley\\University of Exeter (1990)};
% row 44
\node[gpers] (lowr) at (795,44) {David Lowry-Duda\\Brown University (2017)};
\node[gpers] (lefo) at (1604,44) {Samuel Le Fourn\\Université de Bordeaux (2015)};
\node[pers] (turr) at (4746,44) {Charlotte Lucile Turner\\University of Warwick (2013)};
\node[pers] (deco) at (5442,44) {Heline Deconinck\\University of Warwick (2016)};
\node[pers] (bars) at (5694,44) {Carlos Filipe Barros\\University of Warwick (2010)};
\node[pers] (orec) at (6042,44) {Giulio Orecchia\\Universiteit Leiden (2018)};
\node[pers] (wese) at (6474,44) {Stephan Wesemeyer\\University of Exeter (1997)};
% rows 45-48
\node[pers] (agar) at (4794,45) {Alejandro Argaez Garcia\\University of Warwick (2016)};
\node[pers] (galr) at (5742,45) {Homero Gallegos-Ruiz\\University of Warwick (2010)};
\node[pers] (woma) at (6614,45) {Thomas O. Womack\\University of Nottingham (2003)};
\node[pers] (arga) at (4945,46) {Alejandro Argaez\\University of Warwick (2016)};
\node[pers] (purk) at (5892,46) {Soma Purkait\\University of Warwick (2012)};
\node[pers] (pric) at (6770,46) {Martin J. Prickett\\University of Nottingham (2004)};
\node[pers] (mour) at (6090,47) {Michael Mourao\\University of Warwick (2013)};
\node[pers] (cool) at (6240,48) {Jenny Cooley\\University of Warwick (2014)};
% ---------------- connectors
\begin{pgfonlayer}{bg}
\foreach \a/\b in {y0/y1,y1/y2,y2/y3,y3/y4,y4/y5,y5/y6,y6/y7,y7/y8,y8/y9,y9/y10,y10/y11,y11/y12,y12/y13,y13/y14,y14/y15,y15/y16,y16/y17}
  \draw[edg] (\a.south) -- (\b.north);
\eV{t1}{t2}\eV{t2}{t3}\eV{t3}{t4}\eV{t4}{t5}\eV{t5}{t6}\eV{t6}{t7}\eV{t7}{t8}\eV{t8}{t9}\eV{t9}{kyd}
\eVA{kyd}{chrys}{2750}
\eTW{kyd}{2774}{plet}
\eV{chrys}{guar}
\eVA{judae}{plet}{2874}
\eV{paolo}{gaet}
\eV{ores}{lang}\eV{lang}{gmun}\eV{gmun}{peue}\eV{peue}{regi}
\eFW{vitt}{gaza}{1712}
\eVA{vitt}{ogni}{2160}
\draw[edg] (guar.south -| 2627,0) |- (2255,2.41) -- (vitt.south -| 2255,0);
\eVA{polc}{rocc}{2507}
\eGA{gaet}{3105}{rocc}{2656}{2.57}
\eV{plet}{bess}
\eVA{gaet}{vern}{3158}
\eFE{bess}{regi}{3500}
\eVA{bess}{argy}{2868}
\eVA{gaza}{chal}{1767}
\eTW{pelo}{1962}{leon}
\eV{ogni}{leon}
\eTE{rocc}{2479}{leon}
\eGA{chal}{1865}{lasc}{2286}{4.55}
\eGA{argy}{2656}{fici}{2066}{4.45}
\eTE{bess}{2946}{lasc}
\eGA{vern}{3030}{pomp}{2780}{4.65}
\eGA{argy}{2878}{reuc}{3437}{4.37}
\eGA{leon}{2089}{bras}{484}{5.4}
\eGA{argy}{2720}{lefe}{535}{5.57}
\eTE{fici}{1817}{poli}
\eTW{leon}{2184}{monte}
\eV{lasc}{musu}
\eVA{rocc}{pomp}{2571}
\eVA{musu}{monte}{2332}
\eGA{pomp}{2632}{monte}{2414}{6.48}
\eTW{pomp}{2780}{trin}
\eFE{loan}{reuc}{3412}
\eFW{lasc}{bude}{2140}
\eGA{herm}{1722}{lefe}{566}{7.33}
\eGA{stan}{1909}{eras}{1407}{7.51}
\eGA{herm}{1785}{bude}{2009}{7.67}
\eGA{stan}{2052}{lato}{2656}{7.46}
\eGA{monte}{2452}{landi}{2914}{7.38}
\eGA{monte}{2373}{vesa}{2049}{8.63}
\eVA{bude}{tous}{2314}
\eVA{dubo}{sylv}{2556}
\eVA{taga}{sylv}{2475}
\eVA{lato}{clen}{2795}
\eVA{landi}{zwin}{3103}
\draw[edg] (trin.south -| 3089,0) |- (3232,7.3) |- (zwin.east);
\eVA{adri}{camp}{3317}
\eVA{reuc}{camp}{3479}
\eTE{camp}{3332}{clen}
\eVA{reuc}{mela}{3655}
\eVA{reuc}{sgry}{3606}
\eV{stof}{mela}
\eV{dobs}{cope}
\eVA{mela}{sgry}{3728}
\eGA{mela}{3684}{homm}{2695}{8.37}
\eVA{nova}{cope}{4066}
\eFE{regi}{nova}{3888}
\eV{paci}{nova}
\eVA{sgry}{sulz}{3614}
\eGA{capi}{1755}{sulz}{3550}{9.4}
\eFE{sulz}{jjgr}{4685}
\eVA{kaeu}{beur}{5028}
\eVA{beur}{andr}{4908}
\eVA{andr}{jjgr}{4852}
\eV{jjgr}{beck}\eV{beck}{zwjr}
\eGA{wint}{2556}{rond}{4374}{10.5}
\eV{bera}{volm}\eV{volm}{rhet}
\eVA{cope}{rhet}{4221}
\eVA{rhet}{stei}{4025}
\eTW{hoff}{3848}{stei}
\eFE{zwin}{jnst}{3647}
\eGA{stei}{3929}{calv}{3412}{14.43}
\eVA{stei}{meur}{4035}
\eVA{rond}{plat}{4367}
\eVA{plat}{ryff}{4302}
\eV{tart}{ricc}\eV{ricc}{gali}
\eVA{gali}{cast}{5175}
\eVA{cast}{torr}{5231}
\eFE{jnst}{brun}{3850}
\eV{bach}{clam}
\eVA{meur}{pmul}{4084}
\eVA{rade}{kemp}{624}
\eVA{groo}{kemp}{504}
\eV{kemp}{hegi}
\eTE{agri}{1004}{hegi}
\eTE{gaza}{1586}{agri}
\eFE{hegi}{eras}{1304}
\eV{land}{poli}
\eVA{poli}{fort}{1533}
\eVA{oute}{dorp}{831}
\eV{pere}{alea}
\eFW{fort}{alea}{1268}
\eVA{lefe}{vata}{514}
\eGA{alea}{965}{vata}{626}{8.51}
\eVA{dorp}{curt}{800}
\eV{alea}{resc}
\eV{eras}{mili}
\draw[edg] (eras.east) -| (1512,9) -- (capi.west);
\draw[edg] ([yshift=1pt]zasi.west) -| (1508,8.88) -- (mili.east |- 0,8.88);
\eV{zasi}{capi}
\eV{levi}{fagi}
\eGA{capi}{1555}{fagi}{441}{9.57}
\eVA{curt}{fris}{923}
\eGA{resc}{1247}{vesa}{1844}{9.88}
\draw[edg] (fris.east) -- (wint.west);
\draw[edg] ([yshift=-2.6pt]wint.west) -| (vesa.north -| 2138,0);
\eTW{wint}{2620}{stur}
\eV{clen}{stur}
\eV{fagi}{chev}
\eTE{vata}{464}{chev}
\eV{cran}{trem}
\eV{mili}{rein}
\eV{chev}{drus}
\eVA{rein}{naib}{1247}
\eGA{rein}{1446}{homm}{2381}{11.57}
\eVA{tous}{turn}{2297}
\eGA{tous}{2436}{ramu}{2815}{11.4}
\eVA{stur}{ramu}{2906}
\eVA{vesa}{colo}{1803}
\eVA{colo}{fall}{1720}
\eVA{naib}{snel}{1036}
\eFE{trem}{snel}{781}
\eVA{drus}{empe}{369}
\eV{snel}{armi}
\eGA{snel}{1266}{wsne}{1832}{13.57}
\draw[edg] (bras.west) -| (67,13.42) -| (fall.south -| 1328,0);
\eV{fall}{fabr}
\eVA{ramu}{zwin}{2951}
\eV{turn}{scal}
\eV{homm}{thau}
\eV{ceul}{wsne}
\eV{scal}{erpe}
\eV{wsne}{goli}
\eTE{erpe}{2138}{goli}
\eVA{thau}{witt}{2485}
\eVA{zwin}{crai}{2957}
\eVA{seln}{calv}{3343}
\eGA{crai}{2834}{lidd}{2030}{15.46}
\eVA{witt}{lidd}{2172}
\eFW{goli}{ludo}{988}
\eVA{otto}{esch}{3199}
\eVA{calv}{esch}{3372}
\eGA{empe}{595}{ludo}{827}{14.58}
\eV{moll}{ludo}
\eVA{fabr}{jess}{1363}
\eVA{fabr}{spie}{1591}
\eVA{fran}{jhmi}{738}
\eVA{ludo}{jhmi}{906}
\eVA{spie}{vors}{1817}
\eGA{armi}{1166}{jacc}{1968}{15.5}
\eVA{lidd}{jacc}{2012}
\eGA{jess}{1215}{rolf}{2143}{16.35}
\eVA{senn}{rolf}{2482}
\draw[edg] (cmar.north -| 2623,0) |- (2373,16.6) -- (jmar.south -| 2373,0);
\eGA{ryff}{4315}{cmar}{2679}{16.4}
\eVA{senn}{zapf}{2801}
\eV{hein}{zapf}
\eVA{esch}{zapf}{3117}
\eVA{clam}{esup}{3658}
\eGA{mers}{4420}{scho}{4118}{16.45}
\draw[edg] (mers.south -| 4420,0) |- (4229,16.45) |- (huyg.east);
\eTW{pmul}{4221}{weig}
\eVA{mers}{robe}{4567}
\eVA{gali}{vivi}{5077}
\eVA{torr}{vivi}{5179}
\eV{jacc}{vors}
\eVA{vors}{fsyl}{1999}
\eTE{fsyl}{1987}{krau}
\eVA{fsyl}{gwwe}{2165}
\eVA{rolf}{gwwe}{2341}
\draw[edg] (rolf.south -| 2417,0) |- (3194,18.37) -- (mobi.south -| 3194,0);
\eGA{esup}{3631}{fsyl}{2190}{18.5}
\eGA{brun}{3991}{metz}{3355}{18.6}
\draw[edg] (thom.east) -| (3998,19) -- (leib.west);
\eV{flei}{thom}
\eV{thom}{menc}
\eVA{esup}{bauh}{3692}
\draw[edg] (esup.east) -- (3769,18) |- (egli.east);
\eV{bauh}{egli}
\eVA{huyg}{leib}{4152}
\eVA{weig}{leib}{4331}
\eTE{schw}{4508}{leib}
\eV{scho}{huyg}
\eVA{pull}{newt}{4950}
\eVA{barr}{newt}{5083}
\eFE{robe}{barr}{5036}
\eV{vivi}{barr}
\eV{leib}{male}
\eTE{zwjr}{4821}{were}
\eV{male}{jabe}
\eTE{were}{4576}{jabe}
\eFW{jabe}{jobe}{4034}
\eTE{menc}{3826}{wich}
\eTW{egli}{3704}{jobe}
\eV{jobe}{eule}
\eV{newt}{cote}\eV{cote}{smit}\eV{smit}{tayl}\eV{tayl}{whis}\eV{whis}{post}
\eVA{eule}{lagr}{3968}
\eVA{becc}{lagr}{3862}
\eV{dale}{lapl}
\eVA{lagr}{four}{3898}
\eFE{lagr}{pois}{4035}
\eV{lapl}{pois}
\eV{crnk}{jone}
\eTE{post}{4912}{jone}
\eVA{cano}{bruc}{5218}
\eVA{paol}{bruc}{5305}
\eVA{four}{diri}{3888}
\eVA{pois}{diri}{4067}
\eVA{pois}{chas}{4184}
\eVA{wari}{daws}{4489}
\eVA{brac}{daws}{4549}
\eV{chas}{hane}\eV{hane}{moor}\eV{moor}{vebl}\eV{vebl}{whit}
\eVA{daws}{sedg}{4567}
\eVA{jone}{sedg}{4703}
\eV{sedg}{hopk}
\eVA{bruc}{bord}{5239}
\eVA{bord}{brio}{5192}
\eVA{brio}{crem}{5172}
\eV{crem}{vero}
\eV{zapf}{stra}
\eFE{zieg}{walt}{2754}
\eVA{stra}{walt}{2942}
\eVA{mobi}{metz}{3290}
\eVA{metz}{erca}{3323}
\eFW{metz}{rjca}{3155}
\eVA{erca}{rjca}{3319}
\eV{walt}{pasc}
\eV{gwwe}{jawe}
\eVA{laut}{hamb}{2041}
\eVA{jawe}{hamb}{2207}
\eVA{hils}{segn}{1788}
\eFW{hamb}{segn}{1941}
\eVA{krau}{hils}{1747}
\eV{blas}{krau}
\eVA{pasc}{plan}{2991}
\eVA{rjca}{plan}{3167}
\eV{plan}{haus}
\eFW{wich}{haus}{3198}
\eVA{segn}{busc}{1847}
\eVA{haus}{kast}{2909}
\eVA{cbmi}{baum}{1496}
\eFE{jhmi}{cbmi}{1364}
\eVA{baum}{busc}{1676}
\eV{busc}{bode}
\draw[edg] ([yshift=1.5pt]kast.west) -| (pfaf.north -| 1997,0);
\draw[edg] ([yshift=-1.5pt]kast.west) -| (lgsd.north -| 2741,0);
\eVA{kast}{lich}{2902}
\draw[edg] ([yshift=-1.5pt]kast.east) -| (thib.north -| 3174,0);
\draw[edg] ([yshift=1.5pt]kast.east) -| (bran.north -| 3363,0);
\eGA{kast}{2784}{bart}{1753}{27.42}
\eVA{kast}{maye}{2806}
\eGA{kast}{2794}{ohm}{2377}{27.58}
\eVA{bode}{pfaf}{1853}
\eVA{lich}{maye}{2897}
\eVA{lich}{thib}{3074}
\eFE{lich}{bran}{3357}
\eVA{pfaf}{bart}{1842}
\eVA{pfaf}{gaus}{2050}
\eVA{ohm}{lips}{2336}
\eVA{maye}{dirk}{2883}
\eVA{thib}{dirk}{3080}
\eTW{thib}{3272}{gude}
\eGA{diri}{3779}{lips}{2423}{28.5}
\eVA{gaus}{gerl}{2082}
\eGA{gaus}{2155}{bssl}{3216}{29.5}
\eV{dirk}{jaco}
\eVA{gerl}{pluc}{2117}
\eVA{jaco}{rich}{2864}
\eVA{jaco}{hess}{3021}
\eFE{jaco}{schb}{3145}
\eFE{rich}{neum}{2893}
\eVA{hess}{neum}{3011}
\eVA{bssl}{sche}{3444}
\eVA{bran}{sche}{3525}
\eVA{sche}{kumm}{3514}
\eV{pluc}{klei}
\eVA{lips}{klei}{2303}
\eFW{bart}{loba}{1171}
\eFW{loba}{brsh}{769}
\eVA{litt}{brsh}{655}
\eFW{klei}{bieb}{1451}
\eVA{klei}{lind}{2125}
\eGA{neum}{3017}{stor}{3292}{32.5}
\eVA{schb}{stor}{3317}
\eVA{kumm}{schz}{3700}
\eVA{weie}{schz}{3811}
\eVA{gude}{weie}{3751}
\eV{whit}{rlta}
\eV{hopk}{cayl}
\eVA{vero}{cstn}{5129}
\eVA{cayl}{fors}{4473}
\eGA{cayl}{4891}{bake}{5222}{33.37}
\eVA{cstn}{zari}{5063}
\eV{bake}{mord}\eV{mord}{cass}\eV{cass}{birc}\eV{birc}{jecr}
\eV{schz}{feje}
\eVA{rlta}{ausl}{4225}
\eVA{fors}{whtt}{4466}
\eVA{darw}{whtt}{4599}
\eVA{zari}{samu}{4927}
\eVA{feje}{erdo}{3747}
\eVA{feje}{fejt}{3883}
\draw[edg] (whtt.south -| 4420,0) |- (1124,35.41) -- (hard.south -| 1124,0);
\eVA{ausl}{szpi}{4263}
\eTE{samu}{4805}{szpi}
\eV{erdo}{boll}
\eTE{fejt}{3994}{boll}
\eTW{adam}{3452}{boll}
\eV{boll}{gowe}\eV{gowe}{gree}\eV{gree}{harp}
\eV{szpi}{ullm}\eV{ullm}{orr}
\eV{brsh}{cheb}
\eVA{ball}{barn}{863}
\eV{cheb}{mark}
\eV{barn}{ltwd}
\eV{love}{hard}
\eVA{mark}{tama}{580}
\eGA{ltwd}{734}{dave}{427}{35.57}
\eVA{ltwd}{spen}{869}
\eVA{hard}{spen}{1002}
\eTW{bieb}{1327}{freu}
\eVA{bieb}{hopf}{1490}
\eVA{esmi}{hopf}{1598}
\eVA{hilb}{esmi}{1808}
\eV{hopf}{freu}\eV{freu}{vane}
\eVA{vane}{oort}{1613}
\eVA{oort}{edix}{1645}
\eV{edix}{pare}\eV{pare}{lefo}
\eV{dave}{abak}\eV{abak}{coat}\eV{coat}{wile}
\eVA{wile}{rtay}{376}
\eVA{rtay}{buzz}{381}
\eV{buzz}{loef}\eV{loef}{cdwi}
\eFW{coat}{zerb}{182}
\eV{tama}{lehm}
\eVA{lehm}{star}{648}
\eVA{star}{hofs}{718}
\eV{spen}{gall}\eV{gall}{gold}
\eVA{gold}{hofs}{895}
\eV{hofs}{lowr}
\eVA{lind}{hilb}{1944}
\eVA{lind}{mink}{2216}
\eGA{lind}{2261}{perr}{2414}{33.48}
\eGA{lind}{2305}{loew}{2548}{33.35}
\eVA{baue}{loew}{2671}
\eVA{torj}{alva}{3139}
\eVA{stor}{lefs}{3406}
\eGA{mink}{2295}{cara}{2687}{34.49}
\eTW{loew}{2569}{krul}
\draw[edg] (cara.west) -- ++(-1.4pt,0) |- (pesc.east);
\eTW{plfr}{3004}{rodr}
\eV{alva}{rodr}
\eVA{lefs}{wyli}{3434}
\eVA{kluy}{corp}{2035}
\eV{perr}{pesc}
\eV{rodr}{lnes}
\eVA{wyli}{adam}{3448}
\eVA{corp}{koks}{2018}
\eTW{pesc}{2377}{neuk}
\eV{krul}{neuk}
\eV{lnes}{mall}
\eVA{neuk}{baye}{2926}
\eVA{mall}{baye}{3067}
\eV{baye}{vila}\eV{vila}{dieu}\eV{dieu}{frei}
\eVA{koks}{brui}{2013}
\eVA{brui}{leve}{1970}
\eVA{leve}{stee}{1930}
\eFE{oort}{stee}{1795}
\eVA{oort}{jong}{1767}
\eVA{stee}{jong}{1920}
\eV{jong}{test}\eV{test}{bouy}
% Cremona's students
\draw[edg] ([yshift=3.2pt]jecr.west) -| (aran.north -| 4650,0);
\draw[edg] ([yshift=1.8pt]jecr.west) -| (tsuk.north -| 4725,0);
\draw[edg] ([yshift=0.4pt]jecr.west) -| (banw.north -| 4797,0);
\draw[edg] ([yshift=-0.8pt]jecr.west) -| (turr.north -| 4837,0);
\draw[edg] ([yshift=-2.2pt]jecr.west) -| (agar.north -| 4885,0);
\draw[edg] ([yshift=-3.6pt]jecr.west) -| (arga.north -| 4945,0);
\eVA{jecr}{kout}{5185}
\eVA{jecr}{ling}{5233}
\draw[edg] ([yshift=-3pt]jecr.east) -| (robt.north -| 5383,0);
\draw[edg] (jecr.south -| 5337,0) |- ([yshift=2.6pt]siks.west);
\draw[edg] ([yshift=-1.8pt]jecr.east) -| (bygo.north -| 5955,0);
\draw[edg] ([yshift=-0.8pt]jecr.east) -| (whtl.north -| 6380,0);
\draw[edg] ([yshift=0.4pt]jecr.east) -| (wese.north -| 6532,0);
\draw[edg] ([yshift=1.8pt]jecr.east) -| (woma.north -| 6658,0);
\draw[edg] ([yshift=3.2pt]jecr.east) -| (pric.north -| 6763,0);
\eGA{jecr}{5295}{thon}{5140}{42.5}
% Siksek's students
\eGA{siks}{5664}{thon}{5075}{42.6}
\draw[edg] (siks.west) -| (papa.north -| 5418,0);
\draw[edg] ([yshift=-2.6pt]siks.west) -| (deco.north -| 5498,0);
\eVA{siks}{ibra}{5714}
\eVA{siks}{bars}{5785}
\eVA{siks}{galr}{5813}
\eGA{siks}{5819}{purk}{5891}{42.39}
\eTW{siks}{5825}{holm}
\eGA{siks}{5816}{mour}{6075}{44.59}
\eGA{siks}{5822}{cool}{6241}{44.43}
\eV{holm}{orec}
\end{pgfonlayer}
\draw[red, line width=0.6pt, {Triangle[length=2.2pt,width=2.4pt]}-{Triangle[length=2.2pt,width=2.4pt]}] (zerb.east) -- (loef.west);
\end{tikzpicture}
\end{document}
